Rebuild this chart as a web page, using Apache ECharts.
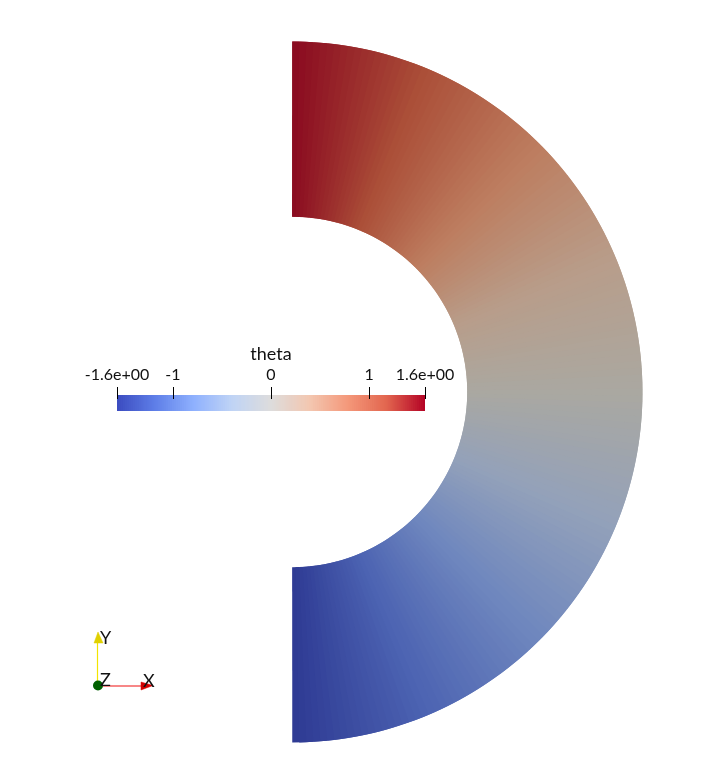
<!DOCTYPE html>
<html><head><meta charset="utf-8">
<style>html,body{margin:0;padding:0;background:#fff}#c{width:701px;height:784px}</style>
<script src="https://cdn.jsdelivr.net/npm/echarts@6/dist/echarts.min.js"></script>
</head><body><div id="c"></div>
<script>
var fieldName = 'theta';
var thetaSamples = [-1.57,-1.55,-1.53,-1.51,-1.49,-1.47,-1.45,-1.43,-1.41,-1.39,-1.37,-1.35,-1.33,-1.31,-1.29,-1.27,-1.25,-1.23,-1.21,-1.19,-1.17,-1.15,-1.13,-1.11,-1.09,-1.07,-1.05,-1.03,-1.01,-0.99,-0.97,-0.95,-0.93,-0.91,-0.89,-0.87,-0.85,-0.83,-0.81,-0.79,-0.77,-0.75,-0.73,-0.71,-0.69,-0.67,-0.65,-0.63,-0.61,-0.59,-0.57,-0.55,-0.53,-0.51,-0.49,-0.47,-0.45,-0.43,-0.41,-0.39,-0.37,-0.35,-0.33,-0.31,-0.29,-0.27,-0.25,-0.23,-0.21,-0.19,-0.17,-0.15,-0.13,-0.11,-0.09,-0.07,-0.05,-0.03,-0.01,0.01,0.03,0.05,0.07,0.09,0.11,0.13,0.15,0.17,0.19,0.21,0.23,0.25,0.27,0.29,0.31,0.33,0.35,0.37,0.39,0.41,0.43,0.45,0.47,0.49,0.51,0.53,0.55,0.57,0.59,0.61,0.63,0.65,0.67,0.69,0.71,0.73,0.75,0.77,0.79,0.81,0.83,0.85,0.87,0.89,0.91,0.93,0.95,0.97,0.99,1.01,1.03,1.05,1.07,1.09,1.11,1.13,1.15,1.17,1.19,1.21,1.23,1.25,1.27,1.29,1.31,1.33,1.35,1.37,1.39,1.41,1.43,1.45,1.47,1.49,1.51,1.53,1.55,1.57];
var innerRadius = 1, outerRadius = 2;
var barColors = ['#3b4cc0','#5f7fe8','#8fb1fe','#c0d4f5','#dddcdc','#f3c7b1','#f4987a','#e2664f','#b40426'];
var shadedColors = ['#2e3a93','#4c63b2','#6f87be','#93a1ba','#aaa8a1','#b89d8a','#bd7d5f','#ab4f38','#8a0a20'];
var tickValues = [-1.57,-1,0,1,1.57];
var tickLabels = {'-1.57':'-1.6e+00','-1':'-1','0':'0','1':'1','1.57':'1.6e+00'};
var tickSpan = [0.75, 1.5];
var FONT = 'Lato';

var cells = [];
for (var i = 0; i < thetaSamples.length - 1; i++) {
  // each cell runs on under its successor so no seam shows between neighbours
  var next = thetaSamples[Math.min(i + 2, thetaSamples.length - 1)];
  cells.push([thetaSamples[i], next, (thetaSamples[i] + thetaSamples[i+1]) / 2]);
}
function ringCell(params, api) {
  var a = api.value(0), b = api.value(1), c = api.visual('color');
  var pts = [api.coord([innerRadius,a]), api.coord([outerRadius,a]), api.coord([outerRadius,b]), api.coord([innerRadius,b])];
  return {type:'polygon', shape:{points:pts}, style:{fill:c}};
}
function barCell(params, api) {
  var a = api.coord([api.value(0), 0]), b = api.coord([api.value(1), 1]);
  return {type:'rect', shape:{x:a[0], y:b[1], width:b[0]-a[0], height:a[1]-b[1]}, style:{fill:api.visual('color')}};
}
function tickMark(params, api) {
  var a = api.coord([api.value(0), tickSpan[0]]), b = api.coord([api.value(0), tickSpan[1]]);
  var x = Math.round(a[0]) + 0.5;
  return {type:'line', shape:{x1:x, y1:a[1], x2:x, y2:b[1]}, style:{stroke:'#000', lineWidth:1}};
}
var chart = echarts.init(document.getElementById('c'), null, {renderer:'canvas', width:701, height:784});
chart.setOption({
  backgroundColor:'#fff',
  animation:false,
  polar:{center:[292,392], radius:350.5},
  radiusAxis:{min:0, max:2, show:false},
  angleAxis:{min:-Math.PI, max:Math.PI, startAngle:180, clockwise:false, show:false},
  grid:{left:117, top:395, width:308, height:16, containLabel:false},
  xAxis:{type:'value', min:-1.57, max:1.57, position:'top', offset:4, z:6,
    name:fieldName, nameLocation:'middle', nameGap:28,
    nameTextStyle:{color:'#111', fontFamily:FONT, fontSize:18},
    splitLine:{show:false}, axisLine:{show:false}, axisTick:{show:false},
    axisLabel:{show:true, customValues:tickValues, margin:8, color:'#111', fontFamily:FONT, fontSize:16, hideOverlap:false,
      formatter:function(v){ return tickLabels[String(v)]; }}},
  yAxis:{type:'value', min:0, max:1, show:false},
  visualMap:[
    {show:false, type:'continuous', seriesIndex:0, dimension:2, min:-1.57, max:1.57, inRange:{color:shadedColors}},
    {show:false, type:'continuous', seriesIndex:1, dimension:2, min:-1.57, max:1.57, inRange:{color:barColors}}
  ],
  series:[
    {type:'custom', coordinateSystem:'polar', data:cells, renderItem:ringCell, silent:true, clip:false, z:1},
    {type:'custom', coordinateSystem:'cartesian2d', data:cells, renderItem:barCell, silent:true, clip:false, z:2},
    {type:'custom', coordinateSystem:'cartesian2d', data:tickValues.map(function(v){return [v];}), encode:{x:0}, renderItem:tickMark, silent:true, clip:false, z:3}
  ],
  graphic:[
    {type:'line', shape:{x1:97.5,y1:685,x2:97.5,y2:640}, style:{stroke:'#f2e400',lineWidth:1.2}, z:10},
    {type:'polygon', shape:{points:[[98,632],[94,643],[103,643]]}, style:{fill:'#e0d000',stroke:'#e0d000',lineWidth:0.5}, z:10},
    {type:'line', shape:{x1:98,y1:686,x2:142,y2:686}, style:{stroke:'#f01010',lineWidth:1.2}, z:10},
    {type:'polygon', shape:{points:[[153,685.5],[141,682],[141,690]]}, style:{fill:'#d00000',stroke:'#e00000',lineWidth:0.5}, z:10},
    {type:'circle', shape:{cx:98,cy:685.5,r:5}, style:{fill:'#006000'}, z:11},
    {type:'text', style:{x:100,y:629,text:'Y',fill:'#111',font:'18px '+FONT}, z:12},
    {type:'text', style:{x:100,y:671,text:'Z',fill:'#111',font:'18px '+FONT}, z:12},
    {type:'text', style:{x:143,y:672,text:'X',fill:'#111',font:'18px '+FONT}, z:12}
  ]
});
</script></body></html>
